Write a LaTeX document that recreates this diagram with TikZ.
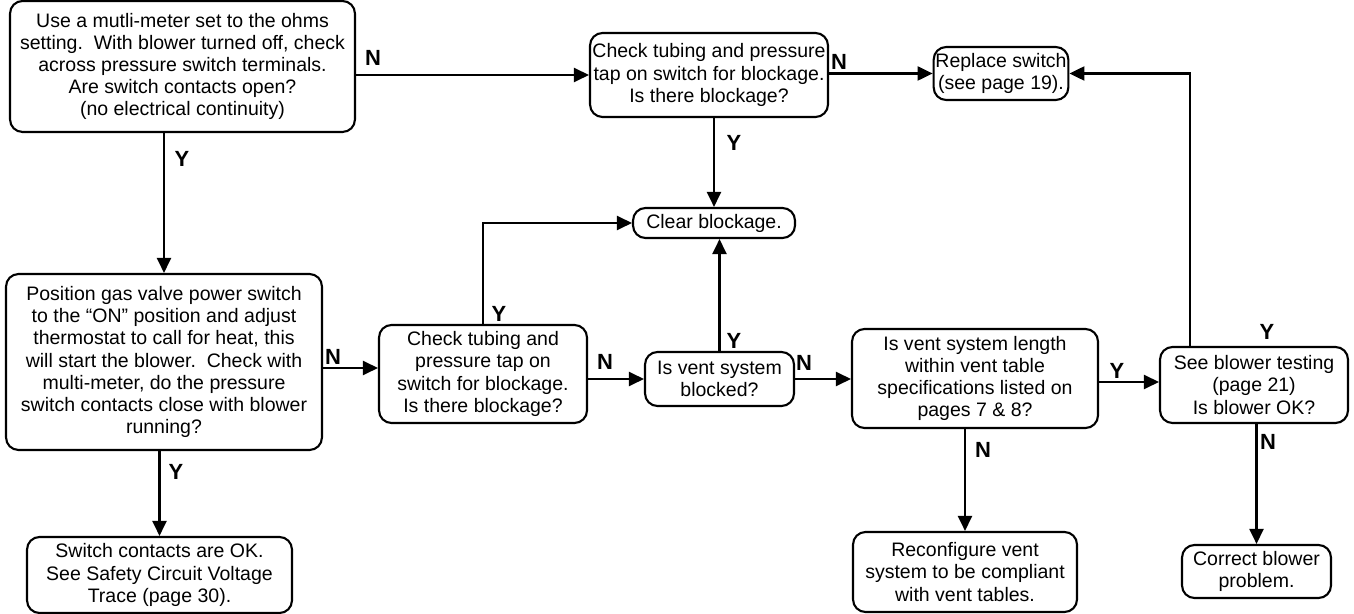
\documentclass[tikz,border=0pt]{standalone}
\usepackage{fontspec}
\setmainfont{Liberation Sans}
\usetikzlibrary{arrows.meta}

\begin{document}
\begin{tikzpicture}[x=0.02cm, y=-0.02cm,
    stepbox/.style ={draw, rounded corners=0.25cm, line width=1.2pt, align=center,
                     inner sep=1pt, font=\fontsize{11.1}{12.6}\selectfont},
    yn/.style ={font=\fontsize{12.5}{14}\selectfont\bfseries, inner sep=0pt},
    arr/.style ={-{Triangle[length=0.3cm,width=0.28cm]}, line width=1.2pt}]
   \useasboundingbox (0,0) rectangle (1354,614);

   \node[stepbox, minimum width=6.9cm, minimum height=2.62cm] (A) at (182.5,66.5)
      {Use a mutli-meter set to the ohms\\ setting.\ \ With blower turned off, check\\ across pressure switch terminals.\\ Are switch contacts open?\\ (no electrical continuity)};
   \node[stepbox, minimum width=4.76cm, minimum height=1.68cm] (B) at (709,75)
      {Check tubing and pressure\\ tap on switch for blockage.\\ Is there blockage?};
   \node[stepbox, minimum width=3.24cm, minimum height=0.6cm] (clear) at (714,223)
      {Clear blockage.};
   \node[stepbox, minimum width=2.64cm, minimum height=1.06cm] (replace) at (1001,73.5)
      {Replace switch\\ (see page 19).};
   \node[stepbox, minimum width=6.32cm, minimum height=3.52cm] (C) at (164,362)
      {Position gas valve power switch\\ to the “ON” position and adjust\\ thermostat to call for heat, this\\ will start the blower.\ \ Check with\\ multi-meter, do the pressure\\ switch contacts close with blower\\ running?};
   \node[stepbox, minimum width=5.3cm, minimum height=1.52cm] (ok) at (159.5,575)
      {Switch contacts are OK.\\ See Safety Circuit Voltage\\ Trace (page 30).};
   \node[stepbox, minimum width=4.16cm, minimum height=1.96cm] (D) at (483,374)
      {Check tubing and\\ pressure tap on\\ switch for blockage.\\ Is there blockage?};
   \node[stepbox, minimum width=2.98cm, minimum height=1.08cm] (E) at (719.5,379)
      {Is vent system\\ blocked?};
   \node[stepbox, minimum width=4.92cm, minimum height=1.98cm] (F) at (975,378.5)
      {Is vent system length\\ within vent table\\ specifications listed on\\ pages 7 \& 8?};
   \node[stepbox, minimum width=3.76cm, minimum height=1.52cm] (G) at (1254,385)
      {See blower testing\\ (page 21)\\ Is blower OK?};
   \node[stepbox, minimum width=4.48cm, minimum height=1.6cm] (reconf) at (965,572)
      {Reconfigure vent\\ system to be compliant\\ with vent tables.};
   \node[stepbox, minimum width=2.98cm, minimum height=1.06cm] (correct) at (1256.5,571.5)
      {Correct blower\\ problem.};

   % yes / no labels
   \node[yn] (nAB) at (373,58) {N};
   \node[yn] (yAC) at (182,159) {Y};
   \node[yn] (nBR) at (839,62) {N};
   \node[yn] (yBC) at (734,143) {Y};
   \node[yn] (nCD) at (333,357) {N};
   \node[yn] (yCO) at (176,472) {Y};
   \node[yn] (yDC) at (499,314) {Y};
   \node[yn] (nDE) at (605,362) {N};
   \node[yn] (yEC) at (734,341) {Y};
   \node[yn] (nEF) at (804,363) {N};
   \node[yn] (yFG) at (1117,371) {Y};
   \node[yn] (nFR) at (983,450) {N};
   \node[yn] (yGR) at (1267,332) {Y};
   \node[yn] (nGC) at (1268,442) {N};

   \draw[arr] (A.east |- B) to (B.west);
   \draw[arr] (C.north |- A.south) to (C.north);
   \draw[arr] (B.south -| clear) to (clear.north);
   \draw[arr] (B.east |- replace) to (replace.west);
   \draw[arr] (C.south -| ok) to (ok.north);
   \draw[arr] ([yshift=-0.12cm]C.east) to ([yshift=-0.12cm]C.east -| D.west);
   \draw[arr] (D.north) |- (clear.west);
   \draw[arr] (D.east |- E) to (E.west);
   \draw[arr] (E.north) to (E.north |- clear.south);
   \draw[arr] (E.east) to (E.east -| F.west);
   \draw[arr] ([yshift=-0.07cm]F.east) to ([yshift=-0.07cm]F.east -| G.west);
   \draw[arr] ([xshift=-1.28cm]G.north) |- (replace.east);
   \draw[arr] (F.south -| reconf) to (reconf.north);
   \draw[arr] (correct.north |- G.south) to (correct.north);
\end{tikzpicture}
\end{document}
